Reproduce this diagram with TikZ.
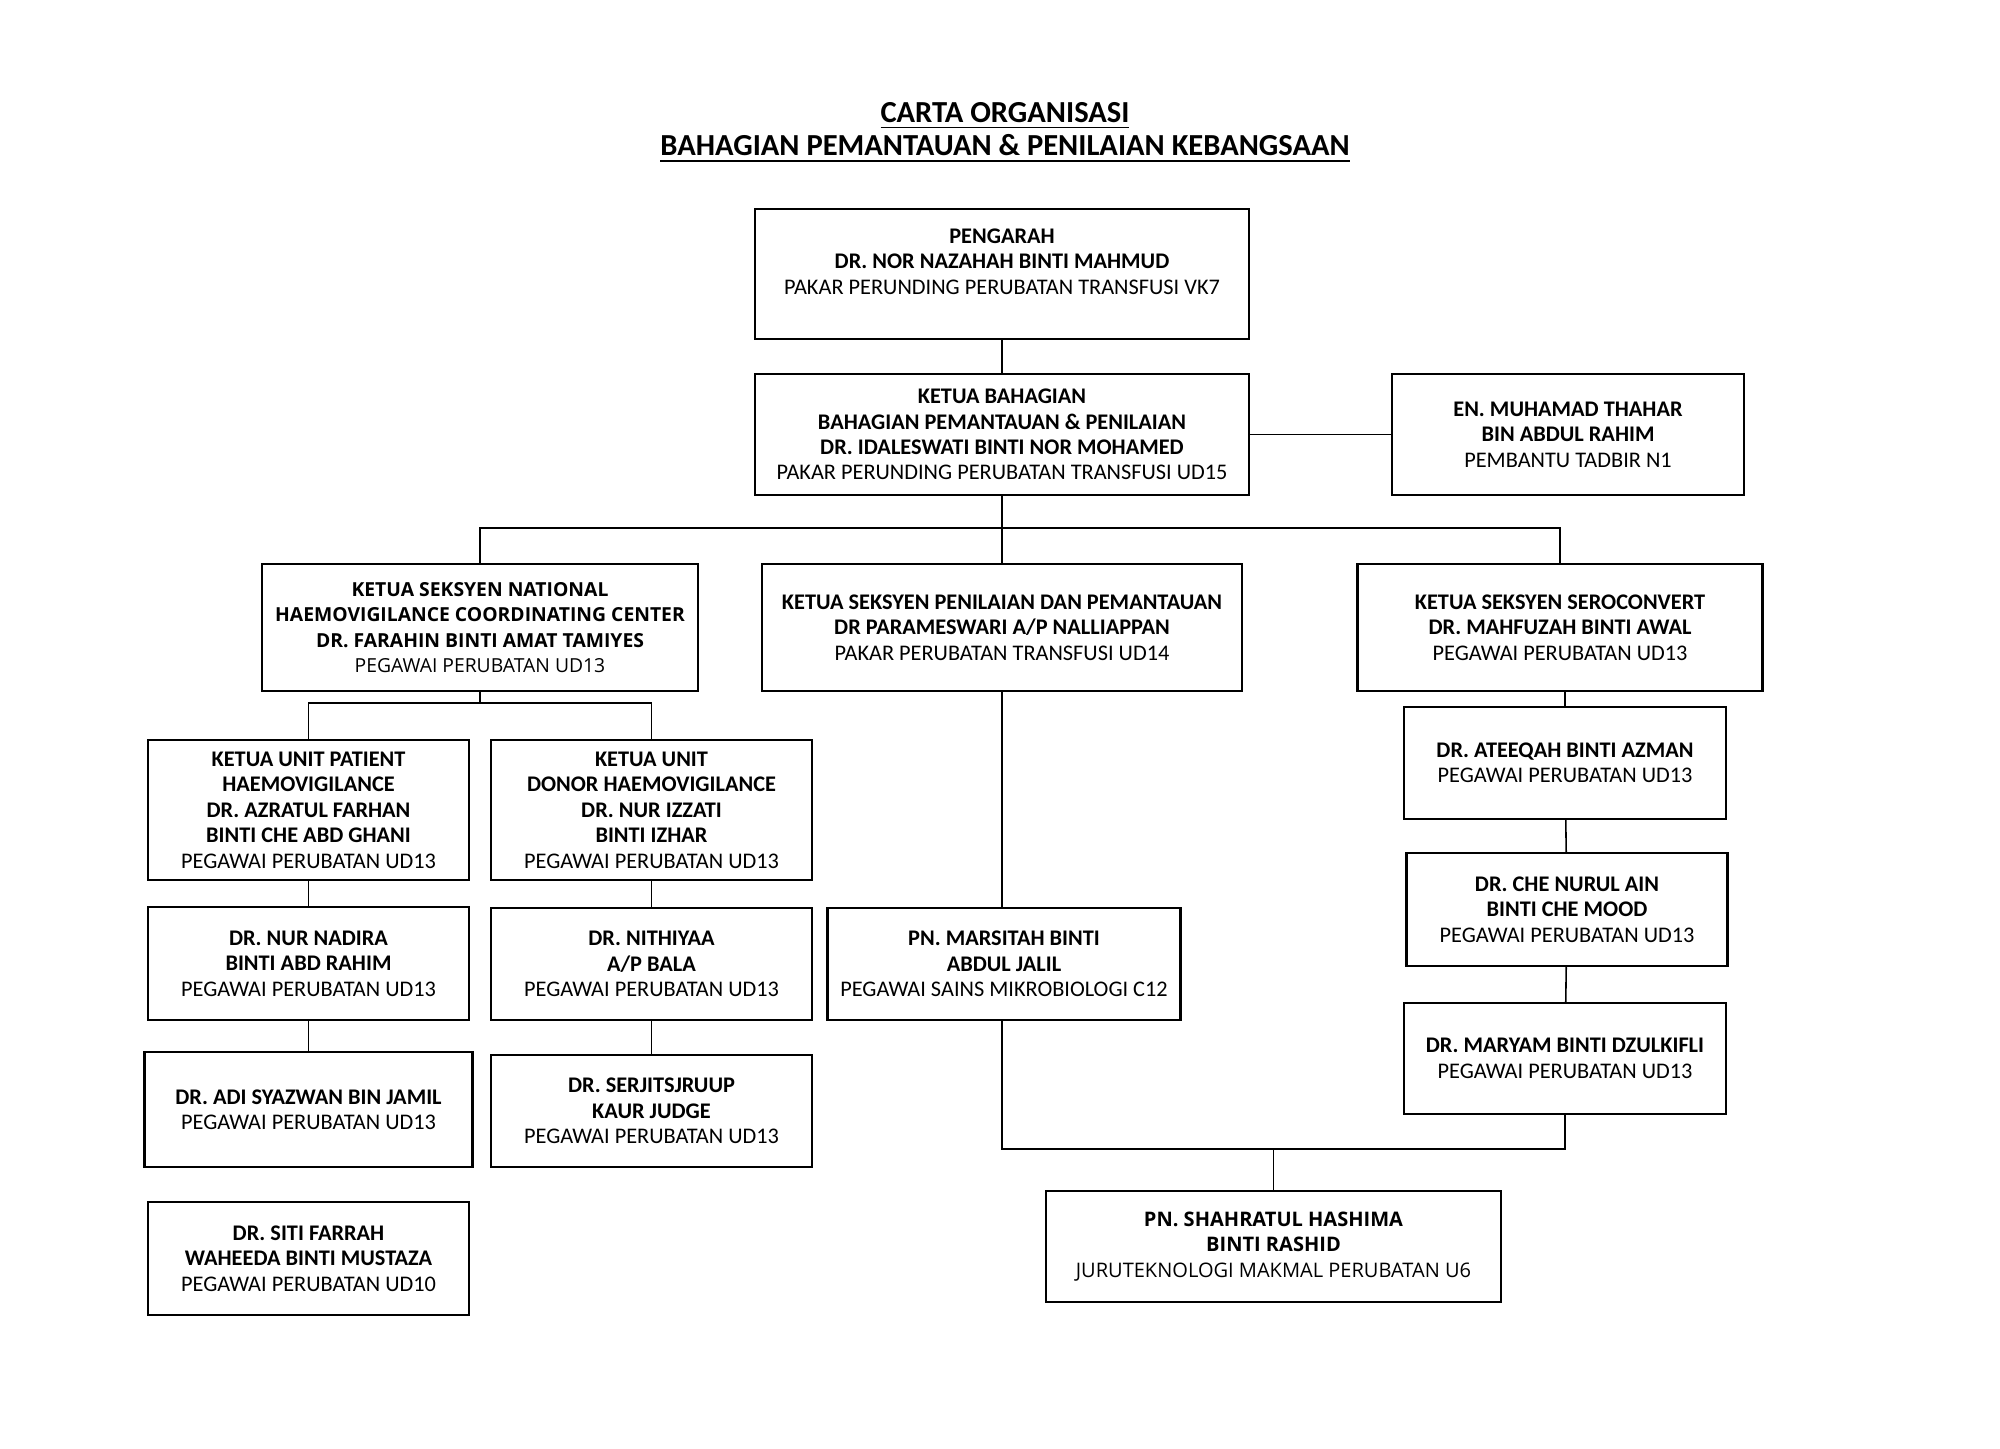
\documentclass[tikz,border=0pt]{standalone}
\usepackage{fontspec}
\setmainfont{Carlito}
\newfontfamily\widefont{Open Sans}
\usepackage{tikz}
\usetikzlibrary{positioning}

\newcommand{\boxfont}{\fontsize{6.35}{7.25}\selectfont}
\newcommand{\widebox}{\widefont\fontsize{5.5}{7.25}\selectfont}

\begin{document}
\begin{tikzpicture}[
  unit/.style={draw, line width=0.7pt, rectangle, align=center, inner sep=0pt, font=\boxfont},
  link/.style={line width=0.45pt}
]
\useasboundingbox (0,0) rectangle (20,-14.49);

% title
\node[font=\fontsize{8.7}{9.4}\selectfont\bfseries] (title1) at (10.05,-1.16) {\underline{CARTA ORGANISASI}};
\node[font=\fontsize{8.7}{9.4}\selectfont\bfseries] (title2) at (10.05,-1.49) {\underline{BAHAGIAN PEMANTAUAN \& PENILAIAN KEBANGSAAN}};

% top
\node[unit, minimum width=4.94cm, minimum height=1.30cm] (peng) at (10.02,-2.74)
  {\textbf{PENGARAH}\\ \textbf{DR. NOR NAZAHAH BINTI MAHMUD}\\ PAKAR PERUNDING PERUBATAN TRANSFUSI VK7\\ ~};
\node[unit, minimum width=4.94cm, minimum height=1.21cm] (ketua) at (10.02,-4.345)
  {\textbf{KETUA BAHAGIAN}\\ \textbf{BAHAGIAN PEMANTAUAN \& PENILAIAN}\\ \textbf{DR. IDALESWATI BINTI NOR MOHAMED}\\ PAKAR PERUNDING PERUBATAN TRANSFUSI UD15};
\node[unit, minimum width=3.52cm, minimum height=1.21cm] (thahar) at (15.68,-4.345)
  {\textbf{EN. MUHAMAD THAHAR}\\ \textbf{BIN ABDUL RAHIM}\\ PEMBANTU TADBIR N1};

% seksyen
\node[unit, font=\widebox, minimum width=4.36cm, minimum height=1.27cm] (national) at (4.80,-6.275)
  {\textbf{KETUA SEKSYEN NATIONAL}\\ \textbf{HAEMOVIGILANCE COORDINATING CENTER}\\ \textbf{DR. FARAHIN BINTI AMAT TAMIYES}\\ PEGAWAI PERUBATAN UD13};
\node[unit, minimum width=4.80cm, minimum height=1.27cm] (penilaian) at (10.02,-6.275)
  {\textbf{KETUA SEKSYEN PENILAIAN DAN PEMANTAUAN}\\ \textbf{DR PARAMESWARI A/P NALLIAPPAN}\\ PAKAR PERUBATAN TRANSFUSI UD14};
\node[unit, minimum width=4.05cm, minimum height=1.27cm] (sero) at (15.6,-6.275)
  {\textbf{KETUA SEKSYEN SEROCONVERT}\\ \textbf{DR. MAHFUZAH BINTI AWAL}\\ PEGAWAI PERUBATAN UD13};

% left column
\node[unit, minimum width=3.21cm, minimum height=1.40cm] (patient) at (3.085,-8.10)
  {\textbf{KETUA UNIT PATIENT}\\ \textbf{HAEMOVIGILANCE}\\ \textbf{DR. AZRATUL FARHAN}\\ \textbf{BINTI CHE ABD GHANI}\\ PEGAWAI PERUBATAN UD13};
\node[unit, minimum width=3.21cm, minimum height=1.40cm] (donor) at (6.515,-8.10)
  {\textbf{KETUA UNIT}\\ \textbf{DONOR HAEMOVIGILANCE}\\ \textbf{DR. NUR IZZATI}\\ \textbf{BINTI IZHAR}\\ PEGAWAI PERUBATAN UD13};
\node[unit, minimum width=3.21cm, minimum height=1.13cm] (nadira) at (3.085,-9.635)
  {\textbf{DR. NUR NADIRA}\\ \textbf{BINTI ABD RAHIM}\\ PEGAWAI PERUBATAN UD13};
\node[unit, minimum width=3.21cm, minimum height=1.12cm] (nithiyaa) at (6.515,-9.64)
  {\textbf{DR. NITHIYAA}\\ \textbf{A/P BALA}\\ PEGAWAI PERUBATAN UD13};
\node[unit, minimum width=3.28cm, minimum height=1.15cm] (adi) at (3.085,-11.095)
  {\textbf{DR. ADI SYAZWAN BIN JAMIL}\\ PEGAWAI PERUBATAN UD13};
\node[unit, minimum width=3.21cm, minimum height=1.12cm] (serjit) at (6.515,-11.11)
  {\textbf{DR. SERJITSJRUUP}\\ \textbf{KAUR JUDGE}\\ PEGAWAI PERUBATAN UD13};
\node[unit, minimum width=3.21cm, minimum height=1.13cm] (siti) at (3.085,-12.585)
  {\textbf{DR. SITI FARRAH}\\ \textbf{WAHEEDA BINTI MUSTAZA}\\ PEGAWAI PERUBATAN UD10};

% middle and right
\node[unit, minimum width=3.53cm, minimum height=1.12cm] (marsitah) at (10.04,-9.64)
  {\textbf{PN. MARSITAH BINTI}\\ \textbf{ABDUL JALIL}\\ PEGAWAI SAINS MIKROBIOLOGI C12};
\node[unit, minimum width=3.22cm, minimum height=1.12cm] (ateeqah) at (15.65,-7.63)
  {\textbf{DR. ATEEQAH BINTI AZMAN}\\ PEGAWAI PERUBATAN UD13};
\node[unit, minimum width=3.21cm, minimum height=1.13cm] (nurul) at (15.67,-9.095)
  {\textbf{DR. CHE NURUL AIN}\\ \textbf{BINTI CHE MOOD}\\ PEGAWAI PERUBATAN UD13};
\node[unit, minimum width=3.22cm, minimum height=1.11cm] (maryam) at (15.65,-10.585)
  {\textbf{DR. MARYAM BINTI DZULKIFLI}\\ PEGAWAI PERUBATAN UD13};
\node[unit, font=\widefont\fontsize{5.7}{7.25}\selectfont, minimum width=4.55cm, minimum height=1.11cm] (shahratul) at (12.735,-12.465)
  {\textbf{PN. SHAHRATUL HASHIMA}\\ \textbf{BINTI RASHID}\\ JURUTEKNOLOGI MAKMAL PERUBATAN U6};

% bus points
\coordinate (mainbus) at (10.02,-5.28);
\coordinate (natbus) at (4.80,-7.03);
\coordinate (labbus) at (12.735,-11.49);

% connectors
\path[draw, link] (peng) -- (ketua);
\path[draw, link] (ketua) -- (thahar);
\path[draw, link] (ketua) -- (penilaian);
\path[draw, link] (national.north) |- (mainbus) -| (sero.north);
\path[draw, link] (national) -- (natbus);
\path[draw, link] (patient.north) |- (natbus) -| (donor.north);
\path[draw, link] (patient) -- (nadira);
\path[draw, link] (nadira) -- (adi);
\path[draw, link] (donor) -- (nithiyaa);
\path[draw, link] (nithiyaa) -- (serjit);
\path[draw, link] (penilaian.south) -- (penilaian.south |- marsitah.north);
\path[draw, link] (ateeqah.north) -- (ateeqah.north |- sero.south);
\path[draw, link] (ateeqah) -- (nurul);
\path[draw, link] (nurul) -- (maryam);
\path[draw, link] (marsitah.south -| penilaian.south) |- (labbus) -| (maryam.south);
\path[draw, link] (labbus) -- (shahratul);

\end{tikzpicture}
\end{document}
